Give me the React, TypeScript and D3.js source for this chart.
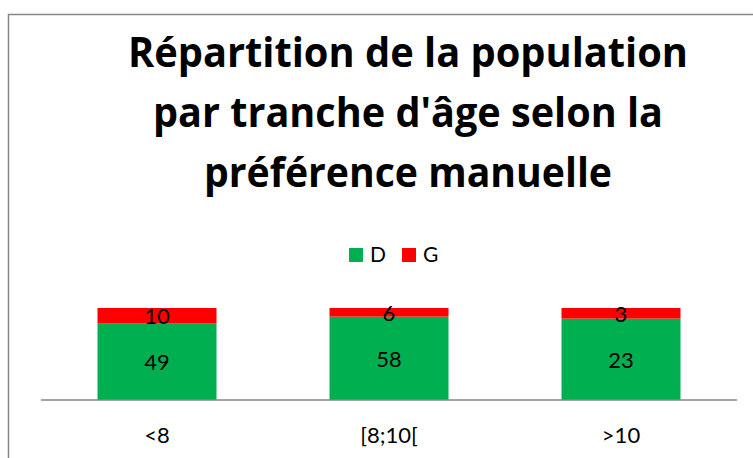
import React from "react";
import * as d3 from "d3";

const categories = ["<8", "[8;10[", ">10"];
const seriesNames = ["D", "G"];
const valuesD = [49, 58, 23];
const valuesG = [10, 6, 3];
const titleLines = [
  "Répartition de la population",
  "par tranche d'âge selon la",
  "préférence manuelle",
];

const colors: Record<string, string> = { D: "#00B050", G: "#FF0000" };
const font = "Lato, 'Open Sans', sans-serif";
const titleFont = "'Open Sans', Lato, sans-serif";

function App() {
  const width = 753;
  const height = 458;

  // plot area
  const left = 41, right = 737, top = 308, bottom = 400;

  const rows = categories.map((c, i) => ({ cat: c, D: valuesD[i], G: valuesG[i] }));
  const stacked = d3.stack<any>().keys(seriesNames).offset(d3.stackOffsetExpand)(rows);

  const p = 0.487;
  const x = d3.scaleBand().domain(categories).range([left, right]).paddingInner(p).paddingOuter(p / 2);
  const y = d3.scaleLinear().domain([0, 1]).range([bottom, top]);

  const titleWidths = [560, 510, 408];

  return (
    <svg width={width} height={height} style={{ position: "absolute", left: 0, top: 0 }}>
      <rect x={0} y={0} width={width} height={height} fill="#fff" />
      {/* chart frame, cut by the page on right and bottom */}
      <rect x={8.5} y={14.5} width={width + 20} height={height + 20} fill="none" stroke="#868686" strokeWidth={1.5} />

      {titleLines.map((t, i) => (
        <text
          key={t}
          x={408}
          y={67 + i * 60}
          textAnchor="middle"
          fontFamily={titleFont}
          fontWeight={700}
          fontSize={41}
          textLength={titleWidths[i]}
          lengthAdjust="spacingAndGlyphs"
          fill="#000"
        >
          {t}
        </text>
      ))}

      {/* legend */}
      {seriesNames.map((s, i) => (
        <g key={s} transform={`translate(${349 + i * 53},248)`}>
          <rect width={14} height={14} fill={colors[s]} />
          <text x={21} y={14} fontFamily={font} fontSize={21} fill="#000">{s}</text>
        </g>
      ))}

      {stacked.map((layer) => (
        <g key={layer.key} fill={colors[layer.key]}>
          {layer.map((d, i) => (
            <rect
              key={i}
              x={x(categories[i])}
              y={y(d[1])}
              width={x.bandwidth()}
              height={y(d[0]) - y(d[1])}
            />
          ))}
        </g>
      ))}

      {stacked.map((layer) => (
        <g key={"l" + layer.key}>
          {layer.map((d, i) => (
            <text
              key={i}
              x={(x(categories[i]) as number) + x.bandwidth() / 2}
              y={(y(d[0]) + y(d[1])) / 2}
              dy="0.38em"
              textAnchor="middle"
              fontFamily={font}
              fontSize={22}
              fill="#000"
            >
              {(d.data as any)[layer.key]}
            </text>
          ))}
        </g>
      ))}

      <line x1={left} x2={right} y1={bottom} y2={bottom} stroke="#868686" strokeWidth={1.5} />

      {categories.map((c) => (
        <text
          key={c}
          x={(x(c) as number) + x.bandwidth() / 2}
          y={443}
          textAnchor="middle"
          fontFamily={font}
          fontSize={22}
          fill="#000"
        >
          {c}
        </text>
      ))}
    </svg>
  );
}

export default App;
